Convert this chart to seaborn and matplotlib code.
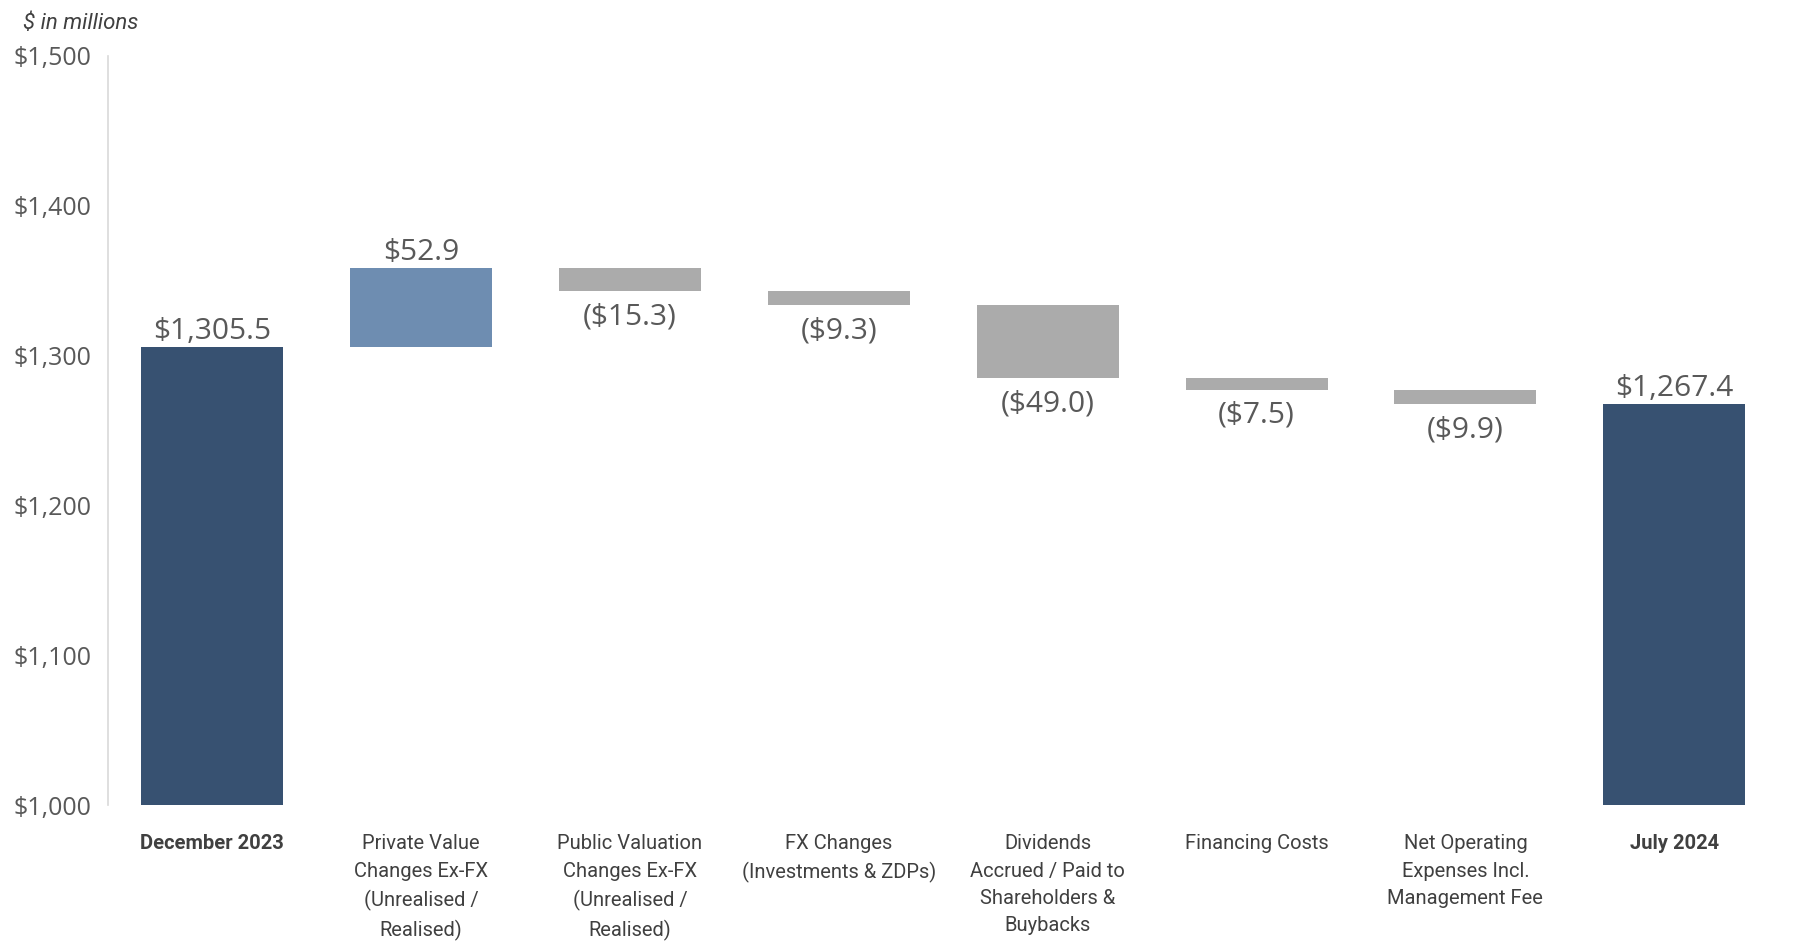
import matplotlib
matplotlib.use("Agg")
import matplotlib.pyplot as plt
from matplotlib import font_manager
import seaborn as sns
import pandas as pd
import numpy as np

# ---- data -------------------------------------------------------------
categories = [
    "December 2023",
    "Private Value\nChanges Ex-FX\n(Unrealised /\nRealised)",
    "Public Valuation\nChanges Ex-FX\n(Unrealised /\nRealised)",
    "FX Changes\n(Investments & ZDPs)",
    "Dividends\nAccrued / Paid to\nShareholders &\nBuybacks",
    "Financing Costs",
    "Net Operating\nExpenses Incl.\nManagement Fee",
    "July 2024",
]
start_value = 1305.5
changes = [52.9, -15.3, -9.3, -49.0, -7.5, -9.9]
end_value = 1267.4
value_labels = ["$1,305.5", "$52.9", "($15.3)", "($9.3)", "($49.0)",
                "($7.5)", "($9.9)", "$1,267.4"]
y_ticks = [1000, 1100, 1200, 1300, 1400, 1500]
y_tick_labels = ["$1,000", "$1,100", "$1,200", "$1,300", "$1,400", "$1,500"]

# ---- waterfall geometry -------------------------------------------------
bottoms, tops, kinds = [0.0], [start_value], ["total"]
running = start_value
for c in changes:
    new = running + c
    bottoms.append(min(running, new))
    tops.append(max(running, new))
    kinds.append("up" if c > 0 else "down")
    running = new
bottoms.append(0.0)
tops.append(end_value)
kinds.append("total")

df = pd.DataFrame({"category": categories, "top": tops,
                   "bottom": bottoms, "kind": kinds})

color_map = {"total": "#375171", "up": "#6E8DB1", "down": "#ABABAB"}
bar_colors = [color_map[k] for k in kinds]

# ---- fonts --------------------------------------------------------------
installed = {f.name for f in font_manager.fontManager.ttflist}
narrow = "Liberation Sans Narrow" if "Liberation Sans Narrow" in installed else "Roboto"
value_font = "Open Sans" if "Open Sans" in installed else "DejaVu Sans"

sns.set_theme(style="white")
plt.rcParams["font.family"] = [value_font, "DejaVu Sans"]

text_grey = "#595959"
label_grey = "#404040"

fig = plt.figure(figsize=(17.93, 9.42), dpi=100)
ax = fig.add_axes([0.0602, 0.1454, 0.9318, 0.7952])

sns.barplot(data=df, x="category", y="top", hue="category",
            palette=bar_colors, width=0.68, legend=False, ax=ax,
            saturation=1, edgecolor="none", linewidth=0)

# turn the bars into floating waterfall segments
for patch, b, t in zip(ax.patches, bottoms, tops):
    patch.set_y(b)
    patch.set_height(t - b)

ax.set_ylim(1000, 1500)
ax.set_xlim(-0.5, len(categories) - 0.5)
ax.set_yticks(y_ticks)
ax.set_yticklabels(y_tick_labels, fontsize=18, color=text_grey,
                   family=[value_font, "DejaVu Sans"])
ax.tick_params(axis="y", length=0, pad=12)
ax.tick_params(axis="x", length=0, pad=21)

ax.set_xticks(range(len(categories)))
ax.set_xticklabels(categories, family=[narrow, "DejaVu Sans"], fontsize=14.5,
                   color=label_grey, linespacing=1.56, va="top")
for i, lab in enumerate(ax.get_xticklabels()):
    if kinds[i] == "total":
        lab.set_fontweight("bold")

ax.set_xlabel("")
ax.set_ylabel("")
for side in ["top", "right", "bottom"]:
    ax.spines[side].set_visible(False)
ax.spines["left"].set_color("#D9D9D9")
ax.spines["left"].set_linewidth(1.2)
ax.grid(False)

# value labels
for i, (b, t, k, txt) in enumerate(zip(bottoms, tops, kinds, value_labels)):
    if k == "down":
        ax.annotate(txt, (i, b), xytext=(0, -8), textcoords="offset points",
                    ha="center", va="top", fontsize=21.5, color=text_grey)
    else:
        ax.annotate(txt, (i, t), xytext=(0, 0.8), textcoords="offset points",
                    ha="center", va="bottom", fontsize=21.5, color=text_grey)

fig.text(0.013, 0.975, "$ in millions", ha="left", va="center",
         fontsize=16, style="italic", color=label_grey,
         family=[narrow, "DejaVu Sans"])

fig.savefig("out.png", dpi=100, facecolor="white")
